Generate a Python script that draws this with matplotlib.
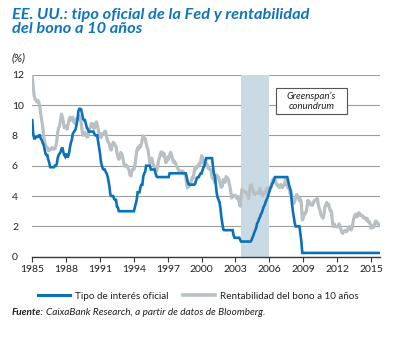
import matplotlib
matplotlib.use('Agg')
import matplotlib.pyplot as plt
from matplotlib.patches import Rectangle
from matplotlib.lines import Line2D
import numpy as np

plt.rcParams['font.family'] = ['Lato', 'DejaVu Sans']

# monthly data, Jan 1985 .. Oct 2015
fed_rate = [
    9.0, 8.1, 7.8, 7.8, 7.9, 7.9, 7.9, 8.0, 8.0, 7.8, 7.7, 7.5,           # 1985
    7.4, 7.1, 6.8, 6.7, 6.7, 6.4, 6.2, 5.9, 5.9, 5.9, 5.9, 5.9,           # 1986
    6.0, 6.0, 6.1, 6.5, 6.7, 6.8, 6.9, 7.1, 7.2, 6.9, 6.7, 6.6,           # 1987
    6.8, 6.6, 6.6, 6.8, 7.2, 7.5, 7.7, 8.1, 8.2, 8.3, 8.4, 8.7,           # 1988
    9.0, 9.6, 9.75, 9.75, 9.7, 9.4, 9.1, 9.0, 9.0, 8.75, 8.5, 8.4,        # 1989
    8.25, 8.25, 8.25, 8.25, 8.25, 8.25, 8.1, 8.0, 8.0, 8.0, 7.6, 7.2,     # 1990
    6.8, 6.25, 6.0, 5.8, 5.75, 5.75, 5.6, 5.5, 5.3, 5.0, 4.6, 4.1,        # 1991
    4.0, 4.0, 4.0, 3.8, 3.75, 3.75, 3.3, 3.25, 3.0, 3.0, 3.0, 3.0,        # 1992
    3.0, 3.0, 3.0, 3.0, 3.0, 3.0, 3.0, 3.0, 3.0, 3.0, 3.0, 3.0,           # 1993
    3.0, 3.25, 3.5, 3.75, 4.25, 4.25, 4.25, 4.6, 4.75, 4.75, 5.3, 5.5,    # 1994
    5.6, 6.0, 6.0, 6.0, 6.0, 6.0, 5.75, 5.75, 5.75, 5.75, 5.75, 5.5,      # 1995
    5.3, 5.25, 5.25, 5.25, 5.25, 5.25, 5.25, 5.25, 5.25, 5.25, 5.25, 5.25,  # 1996
    5.25, 5.25, 5.5, 5.5, 5.5, 5.5, 5.5, 5.5, 5.5, 5.5, 5.5, 5.5,         # 1997
    5.5, 5.5, 5.5, 5.5, 5.5, 5.5, 5.5, 5.5, 5.3, 5.0, 4.8, 4.75,          # 1998
    4.75, 4.75, 4.75, 4.75, 4.75, 4.8, 5.0, 5.2, 5.25, 5.25, 5.4, 5.5,    # 1999
    5.5, 5.7, 5.9, 6.0, 6.3, 6.5, 6.5, 6.5, 6.5, 6.5, 6.5, 6.5,           # 2000
    6.0, 5.5, 5.3, 4.8, 4.2, 3.9, 3.75, 3.6, 3.2, 2.6, 2.2, 1.8,          # 2001
    1.75, 1.75, 1.75, 1.75, 1.75, 1.75, 1.75, 1.75, 1.75, 1.75, 1.4, 1.25,  # 2002
    1.25, 1.25, 1.25, 1.25, 1.25, 1.1, 1.0, 1.0, 1.0, 1.0, 1.0, 1.0,      # 2003
    1.0, 1.0, 1.0, 1.0, 1.0, 1.1, 1.25, 1.4, 1.6, 1.75, 1.9, 2.2,         # 2004
    2.3, 2.5, 2.6, 2.8, 2.9, 3.1, 3.3, 3.4, 3.6, 3.75, 3.9, 4.1,          # 2005
    4.3, 4.5, 4.6, 4.8, 4.9, 5.1, 5.25, 5.25, 5.25, 5.25, 5.25, 5.25,     # 2006
    5.25, 5.25, 5.25, 5.25, 5.25, 5.25, 5.25, 5.25, 5.0, 4.7, 4.5, 4.3,   # 2007
    3.5, 3.0, 2.6, 2.2, 2.0, 2.0, 2.0, 2.0, 2.0, 1.5, 1.0, 0.25,          # 2008
] + [0.25] * 12 * 6 + [0.25] * 10                                          # 2009-2015

bond_10y = [
    11.9, 11.2, 10.6, 10.4, 10.3, 10.2, 10.3, 10.2, 9.9, 9.4, 9.0, 8.6,      # 1985
    8.0, 7.6, 7.4, 7.2, 7.2, 7.0, 7.0, 7.1, 7.1, 7.2, 7.1, 7.1,              # 1986
    7.1, 7.3, 7.6, 8.2, 8.5, 8.6, 9.0, 9.4, 9.2, 8.9, 8.5, 8.6,              # 1987
    8.6, 8.4, 8.7, 9.0, 9.2, 9.0, 9.1, 9.2, 8.9, 8.8, 9.0, 9.1,              # 1988
    9.1, 9.2, 9.3, 9.1, 8.8, 8.3, 8.0, 8.1, 8.2, 8.0, 7.9, 7.9,              # 1989
    8.21, 8.47, 8.59, 8.79, 8.76, 8.48, 8.47, 8.75, 8.89, 8.72, 8.39, 8.08,  # 1990
    8.09, 7.85, 8.11, 8.04, 8.07, 8.28, 8.27, 7.90, 7.65, 7.53, 7.42, 7.09,  # 1991
    7.03, 7.34, 7.54, 7.48, 7.39, 7.26, 6.84, 6.59, 6.42, 6.59, 6.87, 6.77,  # 1992
    6.60, 6.26, 5.98, 5.97, 6.04, 5.96, 5.81, 5.68, 5.36, 5.33, 5.72, 5.77,  # 1993
    5.75, 5.97, 6.48, 6.97, 7.18, 7.10, 7.30, 7.24, 7.46, 7.74, 7.96, 7.81,  # 1994
    7.78, 7.47, 7.20, 7.06, 6.63, 6.17, 6.28, 6.49, 6.20, 6.04, 5.93, 5.71,  # 1995
    5.65, 5.81, 6.27, 6.51, 6.74, 6.91, 6.87, 6.64, 6.83, 6.53, 6.20, 6.30,  # 1996
    6.58, 6.42, 6.69, 6.89, 6.71, 6.49, 6.22, 6.30, 6.21, 6.03, 5.88, 5.81,  # 1997
    5.54, 5.57, 5.65, 5.64, 5.65, 5.50, 5.46, 5.34, 4.81, 4.53, 4.83, 4.65,  # 1998
    4.72, 5.00, 5.23, 5.18, 5.54, 5.90, 5.79, 5.94, 5.92, 6.11, 6.03, 6.28,  # 1999
    6.66, 6.52, 6.26, 5.99, 6.44, 6.10, 6.05, 5.83, 5.80, 5.74, 5.72, 5.24,  # 2000
    5.16, 5.10, 4.89, 5.14, 5.39, 5.28, 5.24, 4.97, 4.73, 4.57, 4.65, 5.09,  # 2001
    5.04, 4.91, 5.28, 5.21, 5.16, 4.93, 4.65, 4.26, 3.87, 3.94, 4.05, 4.03,  # 2002
    4.05, 3.90, 3.81, 3.96, 3.57, 3.33, 3.98, 4.45, 4.27, 4.29, 4.30, 4.27,  # 2003
    4.15, 4.08, 3.83, 4.35, 4.72, 4.73, 4.50, 4.28, 4.13, 4.10, 4.19, 4.23,  # 2004
    4.22, 4.17, 4.50, 4.34, 4.14, 4.00, 4.18, 4.26, 4.20, 4.46, 4.54, 4.47,  # 2005
    4.42, 4.57, 4.72, 4.99, 5.11, 5.11, 5.09, 4.88, 4.72, 4.73, 4.60, 4.56,  # 2006
    4.76, 4.72, 4.56, 4.69, 4.75, 5.10, 5.00, 4.67, 4.52, 4.53, 4.15, 4.10,  # 2007
    3.74, 3.74, 3.51, 3.68, 3.88, 4.10, 4.01, 3.89, 3.69, 3.81, 3.53, 2.42,  # 2008
    2.52, 2.87, 2.82, 2.93, 3.29, 3.72, 3.56, 3.59, 3.40, 3.39, 3.40, 3.59,  # 2009
    3.73, 3.69, 3.73, 3.85, 3.42, 3.20, 3.01, 2.70, 2.65, 2.54, 2.76, 3.29,  # 2010
    3.39, 3.58, 3.41, 3.46, 3.17, 3.00, 3.00, 2.30, 1.98, 2.15, 2.01, 1.98,  # 2011
    1.97, 1.97, 2.17, 2.05, 1.80, 1.62, 1.53, 1.68, 1.72, 1.75, 1.65, 1.72,  # 2012
    1.91, 1.98, 1.96, 1.76, 1.93, 2.30, 2.58, 2.74, 2.81, 2.62, 2.72, 2.90,  # 2013
    2.86, 2.71, 2.72, 2.71, 2.56, 2.60, 2.54, 2.42, 2.53, 2.30, 2.33, 2.21,  # 2014
    1.88, 1.98, 2.04, 1.94, 2.20, 2.36, 2.32, 2.17, 2.17, 2.07,              # 2015
]

dates = 1985 + np.arange(len(bond_10y)) / 12
year_ticks = [1985, 1988, 1991, 1994, 1997, 2000, 2003, 2006, 2009, 2012, 2015]
conundrum = (2003.5, 2006.0)

blue = '#0b71b9'
grey = '#b8c0c3'
band = '#c9dae4'
title_blue = '#1075bd'
txt = '#231f20'

fig = plt.figure(figsize=(4, 3.38), dpi=100)
ax = fig.add_axes([0.0793, 0.2405, 0.8707, 0.5385])

ax.axvspan(conundrum[0], conundrum[1], color=band, lw=0, zorder=1)
ax.plot(dates, bond_10y, color=grey, lw=2.3, zorder=3, solid_joinstyle='round')
ax.plot(dates, fed_rate[:len(dates)], color=blue, lw=1.9, zorder=4, solid_joinstyle='miter')

ax.set_xlim(1984.95, 2015.8)
ax.set_ylim(0, 12)
ax.set_yticks(range(0, 13, 2))
ax.set_xticks(year_ticks)
ax.yaxis.grid(True, color='#9d9d9d', lw=0.8, zorder=0)
ax.set_axisbelow(True)
for s in ['top', 'right', 'left']:
    ax.spines[s].set_visible(False)
ax.spines['bottom'].set_color('#3a3a3a')
ax.spines['bottom'].set_linewidth(1.0)
ax.spines['bottom'].set_zorder(5)
ax.tick_params(axis='y', length=0, pad=14.2, labelsize=7.5, labelcolor=txt)
for lab in ax.get_yticklabels():
    lab.set_horizontalalignment('left')
ax.tick_params(axis='x', length=3.5, width=0.8, color='#3a3a3a', pad=2.5,
               labelsize=7.5, labelcolor=txt)

# Greenspan's conundrum box
ax.add_patch(Rectangle((2006.6, 9.39), 6.3, 1.71, fc='white', ec='#555555',
                       lw=0.8, zorder=6))
ax.text(2009.75, 10.25, 'Greenspan’s\nconundrum', ha='center', va='center',
        style='italic', fontsize=7, color=txt, zorder=7, linespacing=1.2)

fig.text(0.03, 0.976, 'EE. UU.: tipo oficial de la Fed y rentabilidad\ndel bono a 10 años',
         ha='left', va='top', fontsize=11.8, fontweight='bold', style='italic',
         color=title_blue, linespacing=1.02)
fig.text(0.03, 0.83, '(%)', ha='left', va='center', fontsize=8, style='italic', color=txt)

handles = [Line2D([], [], color=blue, lw=2.2), Line2D([], [], color=grey, lw=2.6)]
fig.legend(handles, ['Tipo de interés oficial', 'Rentabilidad del bono a 10 años'],
           loc='center', bbox_to_anchor=(0.496, 0.124), ncol=2, frameon=False,
           fontsize=7.1, handlelength=3.3, handletextpad=0.5, columnspacing=1.4,
           labelcolor=txt)

src1 = fig.text(0.03, 0.076, 'Fuente:', ha='left', va='center', fontsize=7.2,
                fontweight='bold', style='italic', color=txt)
fig.canvas.draw()
bb = src1.get_window_extent()
fig.text((bb.x1 + 2) / fig.bbox.width, 0.076,
         'CaixaBank Research, a partir de datos de Bloomberg.', ha='left',
         va='center', fontsize=7.2, style='italic', color=txt)

fig.savefig('out.png', dpi=100)
